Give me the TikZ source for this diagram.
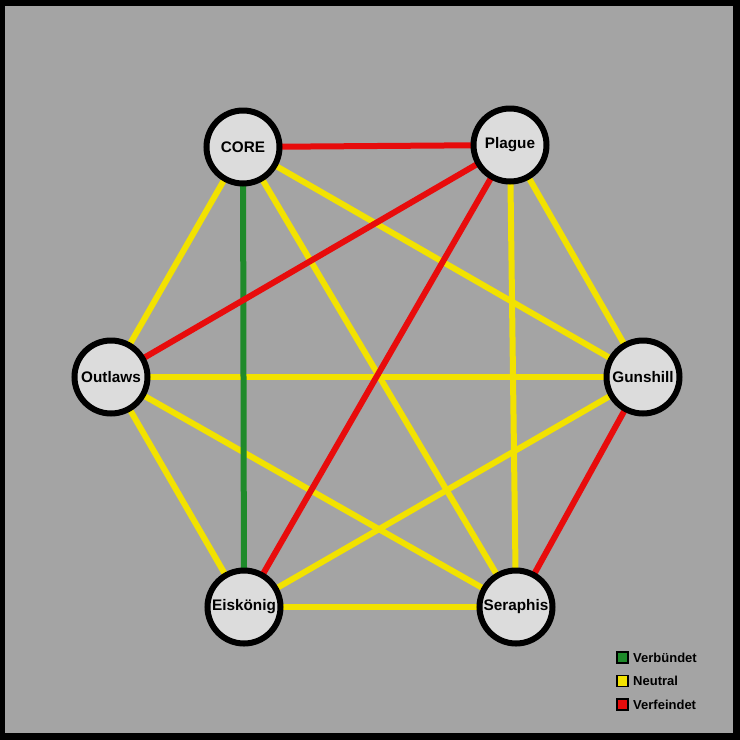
\documentclass[tikz,border=0pt]{standalone}
\usepackage{fontspec}
\setmainfont{Liberation Sans}
\definecolor{bg}{HTML}{A4A4A4}
\definecolor{nodefill}{HTML}{DCDCDC}
\definecolor{ally}{HTML}{1E8A2A}
\definecolor{neutral}{HTML}{F2E200}
\definecolor{enemy}{HTML}{E80C0C}
\tikzset{
  faction/.style={circle, draw=black, line width=6pt, fill=nodefill, minimum size=73pt, inner sep=0pt, font=\bfseries\fontsize{15.3}{18}\selectfont},
  rel/.style={line width=6pt},
  relA/.style={rel, draw=ally},
  relN/.style={rel, draw=neutral},
  relE/.style={rel, draw=enemy},
  legbox/.style={draw=black, line width=1.3pt, minimum size=11pt, inner sep=0pt},
  legtext/.style={anchor=west, font=\bfseries\fontsize{13}{15}\selectfont, inner sep=0pt}
}
\begin{document}
\begin{tikzpicture}[x=1pt,y=-1pt]
\useasboundingbox (0,0) rectangle (740,740);
\fill[black] (0,0) rectangle (740,740);
\fill[bg] (5,6) rectangle (733,733);
% node positions
\coordinate (pCORE) at (243,147);
\coordinate (pPlague) at (510,145);
\coordinate (pOutlaws) at (111,377);
\coordinate (pGunshill) at (643,377);
\coordinate (pEis) at (244,607);
\coordinate (pSera) at (516,607);
% edges
\begin{scope}
\draw[relN] (pCORE) -- (pOutlaws);
\draw[relN] (pCORE) -- (pGunshill);
\draw[relN] (pCORE) -- (pSera);
\draw[relN] (pPlague) -- (pSera);
\draw[relN] (pPlague) -- (pGunshill);
\draw[relN] (pOutlaws) -- (pGunshill);
\draw[relN] (pOutlaws) -- (pEis);
\draw[relN] (pOutlaws) -- (pSera);
\draw[relN] (pGunshill) -- (pEis);
\draw[relN] (pEis) -- (pSera);
\draw[relA] (pCORE) -- (pEis);
\draw[relE] (pCORE) -- (pPlague);
\draw[relE] (pPlague) -- (pOutlaws);
\draw[relE] (pPlague) -- (pEis);
\draw[relE] (pGunshill) -- (pSera);
\end{scope}
% nodes
\node[faction] (core) at (pCORE) {CORE};
\node[faction] (plague) at (pPlague) {Plague};
\node[faction] (outlaws) at (pOutlaws) {Outlaws};
\node[faction] (gunshill) at (pGunshill) {Gunshill};
\node[faction] (eis) at (pEis) {Eiskönig};
\node[faction] (sera) at (pSera) {Seraphis};
% legend
\node[legbox, fill=ally] (lg1) at (622.5,657.5) {};
\node[legbox, fill=neutral] (lg2) at (622.5,681) {};
\node[legbox, fill=enemy] (lg3) at (622.5,704.5) {};
\node[legtext] (lt1) at (633,657.5) {Verbündet};
\node[legtext] (lt2) at (633,681) {Neutral};
\node[legtext] (lt3) at (633,704.5) {Verfeindet};
\end{tikzpicture}
\end{document}
